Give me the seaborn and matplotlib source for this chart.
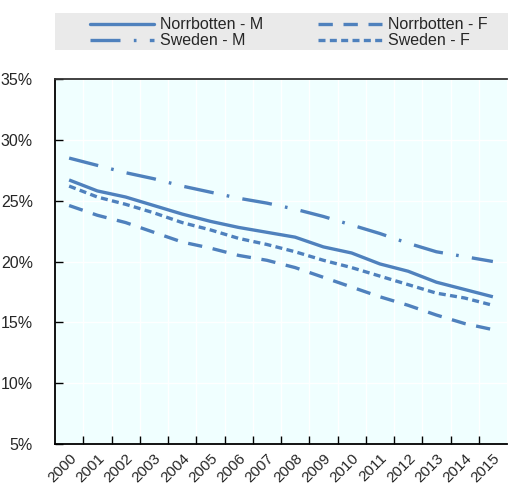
import matplotlib
matplotlib.use("Agg")
import matplotlib.pyplot as plt
import seaborn as sns
import pandas as pd
import numpy as np
from matplotlib.ticker import FuncFormatter, FixedLocator
from matplotlib.lines import Line2D
from matplotlib.patches import Rectangle

years = list(range(2000, 2016))
norrbotten_m = [26.7, 25.8, 25.3, 24.6, 23.9, 23.3, 22.8, 22.4, 22.0, 21.2, 20.7, 19.8, 19.2, 18.3, 17.7, 17.1]
norrbotten_f = [24.6, 23.8, 23.2, 22.4, 21.6, 21.1, 20.5, 20.1, 19.5, 18.7, 17.9, 17.1, 16.4, 15.6, 14.9, 14.4]
sweden_m = [28.5, 27.9, 27.3, 26.8, 26.2, 25.7, 25.2, 24.8, 24.3, 23.7, 23.0, 22.3, 21.5, 20.8, 20.4, 20.0]
sweden_f = [26.2, 25.3, 24.7, 24.0, 23.2, 22.6, 21.9, 21.4, 20.8, 20.1, 19.5, 18.8, 18.1, 17.4, 17.0, 16.4]
series_names = ["Norrbotten - M", "Sweden - M", "Norrbotten - F", "Sweden - F"]
y_ticks = [5, 10, 15, 20, 25, 30, 35]

sns.set_theme(style="white")
plt.rcParams['font.family'] = ['Liberation Sans', 'DejaVu Sans']

values = {"Norrbotten - M": norrbotten_m, "Sweden - M": sweden_m,
          "Norrbotten - F": norrbotten_f, "Sweden - F": sweden_f}
df = pd.concat([pd.DataFrame({"year": years, "value": values[n], "series": n}) for n in series_names])

color = "#4F81BD"
lw = 2.4
dashes = {"Norrbotten - M": "",
          "Sweden - M": (9, 4, 0.8, 4),
          "Norrbotten - F": (4.3, 3.2),
          "Sweden - F": (2.1, 1.3)}

fig = plt.figure(figsize=(5.08, 4.84), dpi=100)
ax = fig.add_axes([55/508, 1-444/484, 452/508, (444-79)/484])
ax.set_facecolor("#F0FFFF")

sns.lineplot(data=df, x="year", y="value", style="series", style_order=series_names,
             dashes=dashes, color=color, linewidth=lw, ax=ax, legend=False)
for line in ax.lines:
    line.set_dash_capstyle('butt')
    line.set_solid_capstyle('butt')

ax.set_xlim(1999.5, 2015.5)
ax.set_ylim(5, 35)
ax.set_xlabel("")
ax.set_ylabel("")
ax.set_xticks(years)
ax.set_xticklabels([str(y) for y in years], rotation=45, ha='right', rotation_mode='anchor', fontsize=11)
ax.xaxis.set_minor_locator(FixedLocator([y + 0.5 for y in years[:-1]]))
ax.set_yticks(y_ticks)
ax.yaxis.set_major_formatter(FuncFormatter(lambda v, p: f"{int(v)}%"))
ax.tick_params(axis='y', which='major', direction='in', length=6, width=1, color='black', labelsize=11.5, pad=16, left=True)
ax.tick_params(axis='x', which='major', length=0, pad=5)
ax.tick_params(axis='x', which='minor', direction='in', length=6, width=1, color='black', bottom=True)
ax.grid(False)
ax.grid(True, axis='y', which='major', color='white', linewidth=1)
ax.grid(True, axis='x', which='minor', color='white', linewidth=1)
for s in ['left', 'bottom']:
    ax.spines[s].set_color('black')
    ax.spines[s].set_linewidth(1.3)
ax.spines['top'].set_color('#333333')
ax.spines['top'].set_linewidth(1.3)
ax.spines['right'].set_visible(False)

fig.patches.append(Rectangle((55/508, 1-50/484), 453/508, 37/484, transform=fig.transFigure,
                             facecolor='#EAEAEA', edgecolor='none', zorder=0))
handles = []
for n in series_names:
    d = dashes[n]
    ls = '-' if d == "" else (0, d)
    handles.append(Line2D([0], [0], color=color, linewidth=lw, linestyle=ls, dash_capstyle='butt'))
leg = fig.legend(handles, series_names, ncol=2, loc='upper left',
                 bbox_to_anchor=(88/508, 1-15/484), frameon=False,
                 prop={'size': 11.5}, handlelength=4.0, handletextpad=0.35, borderaxespad=0,
                 labelspacing=0.05, borderpad=0.15, columnspacing=3.45)

fig.savefig("out.png", dpi=100)
